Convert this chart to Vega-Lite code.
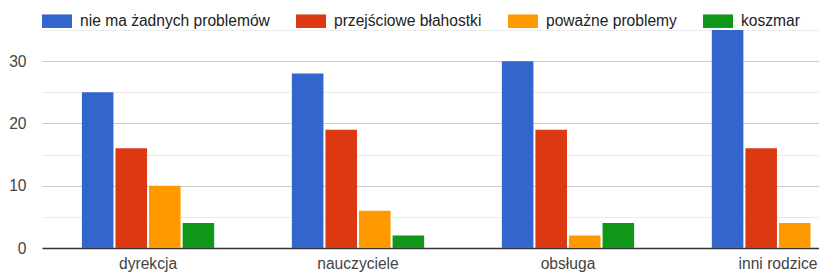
{
  "$schema": "https://vega.github.io/schema/vega-lite/v6.json",
  "width": 777,
  "height": 218,
  "autosize": {"type": "none"},
  "padding": {"left": 42, "top": 30, "right": 0, "bottom": 26},
  "background": "white",
  "config": {"view": {"stroke": null}, "font": "Liberation Sans"},
  "data": {
    "values": [
      {"grupa": "dyrekcja", "odp": "nie ma żadnych problemów", "n": 25},
      {"grupa": "dyrekcja", "odp": "przejściowe błahostki", "n": 16},
      {"grupa": "dyrekcja", "odp": "poważne problemy", "n": 10},
      {"grupa": "dyrekcja", "odp": "koszmar", "n": 4},
      {"grupa": "nauczyciele", "odp": "nie ma żadnych problemów", "n": 28},
      {"grupa": "nauczyciele", "odp": "przejściowe błahostki", "n": 19},
      {"grupa": "nauczyciele", "odp": "poważne problemy", "n": 6},
      {"grupa": "nauczyciele", "odp": "koszmar", "n": 2},
      {"grupa": "obsługa", "odp": "nie ma żadnych problemów", "n": 30},
      {"grupa": "obsługa", "odp": "przejściowe błahostki", "n": 19},
      {"grupa": "obsługa", "odp": "poważne problemy", "n": 2},
      {"grupa": "obsługa", "odp": "koszmar", "n": 4},
      {"grupa": "inni rodzice", "odp": "nie ma żadnych problemów", "n": 35},
      {"grupa": "inni rodzice", "odp": "przejściowe błahostki", "n": 16},
      {"grupa": "inni rodzice", "odp": "poważne problemy", "n": 4}
    ]
  },
  "mark": {"type": "bar", "clip": true},
  "encoding": {
    "x": {
      "field": "grupa",
      "type": "nominal",
      "sort": ["dyrekcja", "nauczyciele", "obsługa", "inni rodzice"],
      "scale": {"range": [0, 842], "paddingInner": 0.37, "paddingOuter": 0.19},
      "axis": {
        "title": null,
        "labelAngle": 0,
        "labelFontSize": 15.6,
        "labelColor": "#444",
        "ticks": false,
        "domainColor": "#333",
        "domainWidth": 1.5,
        "labelPadding": 8
      }
    },
    "xOffset": {
      "field": "odp",
      "type": "nominal",
      "sort": ["nie ma żadnych problemów", "przejściowe błahostki", "poważne problemy", "koszmar"],
      "scale": {"domain": ["nie ma żadnych problemów", "przejściowe błahostki", "poważne problemy", "koszmar"], "paddingInner": 0.06}
    },
    "y": {
      "field": "n",
      "type": "quantitative",
      "scale": {"domain": [0, 35], "nice": false},
      "axis": {
        "title": null,
        "values": [0, 5, 10, 15, 20, 25, 30, 35],
        "labelExpr": "datum.value % 10 === 0 ? datum.label : ''",
        "domain": false,
        "ticks": false,
        "labelFontSize": 15.6,
        "labelColor": "#444",
        "labelPadding": 16,
        "gridColor": {"condition": {"test": "datum.value % 10 === 0", "value": "#cccccc"}, "value": "#ebebeb"}
      }
    },
    "color": {
      "field": "odp",
      "type": "nominal",
      "scale": {
        "domain": ["nie ma żadnych problemów", "przejściowe błahostki", "poważne problemy", "koszmar"],
        "range": ["#3366cc", "#dc3912", "#ff9900", "#109618"]
      },
      "legend": {
        "orient": "none",
        "legendX": 0,
        "legendY": -24,
        "direction": "horizontal",
        "title": null,
        "symbolType": "M-1,-0.45H1V0.45H-1Z",
        "symbolSize": 900,
        "symbolStrokeWidth": 0,
        "symbolOpacity": 1,
        "labelFontSize": 15.6,
        "labelColor": "#222",
        "labelOffset": 8,
        "columnPadding": 26,
        "labelLimit": 400
      }
    }
  }
}
